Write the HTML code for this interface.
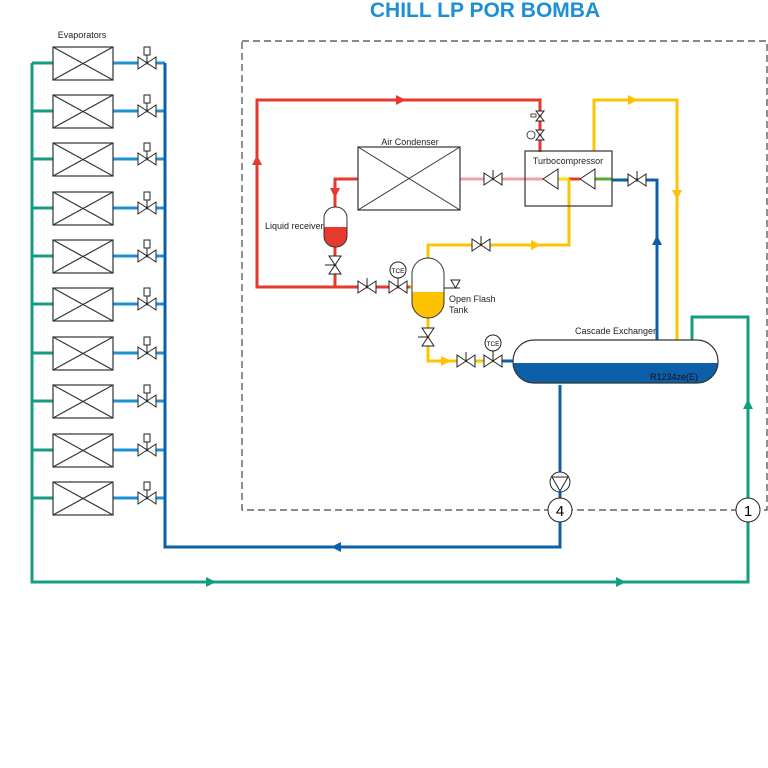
<!DOCTYPE html>
<html><head><meta charset="utf-8"><style>
html,body{margin:0;padding:0;background:#fff;width:768px;height:768px;overflow:hidden}
svg text{font-family:"Liberation Sans",sans-serif}
</style></head><body>
<svg width="768" height="768" viewBox="0 0 768 768" xmlns="http://www.w3.org/2000/svg">
<defs>
<g id="vh"><path d="M-9,-6 L9,6 L9,-6 L-9,6 Z" fill="#fff" stroke="#222" stroke-width="1"/></g>
<g id="vv"><path d="M-6,-9 L6,9 L-6,9 L6,-9 Z" fill="#fff" stroke="#222" stroke-width="1"/></g>
<g id="vs"><path d="M-4,-5 L4,5 L-4,5 L4,-5 Z" fill="#fff" stroke="#222" stroke-width="1"/></g>
</defs>
<text x="485" y="17" font-size="21" font-weight="bold" fill="#1e8fd5" text-anchor="middle">CHILL LP POR BOMBA</text>
<rect x="242" y="41" width="525" height="469" fill="none" stroke="#444" stroke-width="1.2" stroke-dasharray="7,4"/>

<g fill="none" stroke="#139e82" stroke-width="3">
<path d="M32,63 V582 H748 V317 H692 V340"/>
<path d="M32,63 H53 M32,111 H53 M32,159 H53 M32,208 H53 M32,256 H53 M32,304 H53 M32,353 H53 M32,401 H53 M32,450 H53 M32,498 H53"/>
</g>
<g fill="#139e82">
<path d="M206,577 L216,582 L206,587Z"/><path d="M616,577 L626,582 L616,587Z"/><path d="M743,409 L748,399 L753,409Z"/>
</g>
<g fill="none" stroke="#1f90d8" stroke-width="3">
<path d="M113,63 H165 M113,111 H165 M113,159 H165 M113,208 H165 M113,256 H165 M113,304 H165 M113,353 H165 M113,401 H165 M113,450 H165 M113,498 H165"/>
</g>
<g fill="none" stroke="#0d5faa" stroke-width="3">
<path d="M165,63 V547 H560 V385"/>
<path d="M612,180 H657 V340"/>
<path d="M500,361 H513"/>
</g>
<g fill="#0d5faa"><path d="M341,542 L331,547 L341,552Z"/><path d="M652,245 L657,235 L662,245Z"/></g>
<g fill="#fff" stroke="#333" stroke-width="1.2">
<g id="ev"><rect x="53" y="47" width="60" height="33"/><path d="M53,47 L113,80 M113,47 L53,80"/></g>
<use href="#ev" y="48"/><use href="#ev" y="96"/><use href="#ev" y="145"/><use href="#ev" y="193"/><use href="#ev" y="241"/><use href="#ev" y="290"/><use href="#ev" y="338"/><use href="#ev" y="387"/><use href="#ev" y="435"/>
</g>
<g id="ev1"><use href="#vh" x="147" y="63"/><rect x="144" y="47" width="6" height="8" fill="#fff" stroke="#222" stroke-width="1"/><path d="M147,55 V63" stroke="#222"/></g>
<use href="#ev1" y="48"/><use href="#ev1" y="96"/><use href="#ev1" y="145"/><use href="#ev1" y="193"/><use href="#ev1" y="241"/><use href="#ev1" y="290"/><use href="#ev1" y="338"/><use href="#ev1" y="387"/><use href="#ev1" y="435"/>
<text x="82" y="38" font-size="9" text-anchor="middle" fill="#222">Evaporators</text>

<g fill="none" stroke="#e63a2e" stroke-width="3">
<path d="M540,152 V100 H257 V287 H410"/>
<path d="M358,179 H335 V207"/>
<path d="M335,247 V287"/>
<path d="M569,179 H580"/>
</g>
<g fill="#e63a2e"><path d="M396,95 L406,100 L396,105Z"/><path d="M252,165 L257,155 L262,165Z"/><path d="M330,188 L335,198 L340,188Z"/></g>
<path d="M460,179 H543" stroke="#f0a0a8" stroke-width="3"/>
<path d="M558,179 H569" stroke="#f5e400" stroke-width="3"/>
<path d="M595,179 H612" stroke="#5aaa2a" stroke-width="3"/>
<g fill="none" stroke="#fdc300" stroke-width="3">
<path d="M594,151 V100 H677 V340"/>
<path d="M569,179 V245 H428 V258"/>
<path d="M428,318 V361 H500"/>
<path d="M410,287 H412"/>
</g>
<g fill="#fdc300"><path d="M628,95 L638,100 L628,105Z"/><path d="M672,190 L677,200 L682,190Z"/><path d="M531,240 L541,245 L531,250Z"/><path d="M441,356 L451,361 L441,366Z"/></g>

<clipPath id="cx"><rect x="513" y="340" width="205" height="43" rx="21"/></clipPath>
<rect x="513" y="340" width="205" height="43" rx="21" fill="#fff"/>
<rect x="500" y="363" width="230" height="25" fill="#0d5faa" clip-path="url(#cx)"/>
<rect x="513" y="340" width="205" height="43" rx="21" fill="none" stroke="#333" stroke-width="1.2"/>
<text x="575" y="334" font-size="9" fill="#222">Cascade Exchanger</text>
<text x="650" y="380" font-size="9" fill="#111">R1234ze(E)</text>

<circle cx="560" cy="482" r="10" fill="#fff" stroke="#222"/><path d="M552,477 H568 L560,491Z" fill="none" stroke="#222"/>
<circle cx="560" cy="510" r="12" fill="#fff" stroke="#222"/><text x="560" y="516" font-size="15" text-anchor="middle">4</text>
<circle cx="748" cy="510" r="12" fill="#fff" stroke="#222"/><text x="748" y="516" font-size="15" text-anchor="middle">1</text>

<rect x="525" y="151" width="87" height="55" fill="none" stroke="#333" stroke-width="1.2"/>
<path d="M543,179 L558,169 L558,189Z M580,179 L595,169 L595,189Z" fill="#fff" stroke="#222"/>
<text x="568" y="164" font-size="9" text-anchor="middle" fill="#222">Turbocompressor</text>
<use href="#vh" x="637" y="180"/><path d="M637,180 V171" stroke="#222"/>
<use href="#vs" x="540" y="116"/><rect x="531" y="114" width="5" height="3" fill="#fff" stroke="#222" stroke-width=".8"/>
<use href="#vs" x="540" y="135"/>
<circle cx="531" cy="135" r="4" fill="#fff" stroke="#222" stroke-width=".8"/>

<rect x="358" y="147" width="102" height="63" fill="#fff" stroke="#333" stroke-width="1.2"/>
<path d="M358,147 L460,210 M460,147 L358,210" stroke="#333"/>
<text x="410" y="145" font-size="9" text-anchor="middle" fill="#222">Air Condenser</text>
<use href="#vh" x="493" y="179"/><path d="M493,179 V170" stroke="#222"/>

<clipPath id="cr"><rect x="324" y="207" width="23" height="40" rx="11"/></clipPath>
<rect x="324" y="207" width="23" height="40" rx="11" fill="#fff"/>
<rect x="320" y="227" width="30" height="25" fill="#e63a2e" clip-path="url(#cr)"/>
<rect x="324" y="207" width="23" height="40" rx="11" fill="none" stroke="#333"/>
<text x="265" y="229" font-size="9" fill="#222">Liquid receiver</text>
<use href="#vv" x="335" y="265"/><path d="M335,265 H325" stroke="#222"/>
<use href="#vh" x="367" y="287"/><path d="M367,287 V278" stroke="#222"/>
<use href="#vh" x="398" y="287"/><path d="M398,287 V278" stroke="#222"/>
<circle cx="398" cy="270" r="8" fill="#fff" stroke="#222"/><text x="398" y="273" font-size="6.5" text-anchor="middle">TCE</text>

<clipPath id="cf"><rect x="412" y="258" width="32" height="60" rx="16"/></clipPath>
<rect x="412" y="258" width="32" height="60" rx="16" fill="#fff"/>
<rect x="405" y="292" width="45" height="30" fill="#fdc300" clip-path="url(#cf)"/>
<rect x="412" y="258" width="32" height="60" rx="16" fill="none" stroke="#333"/>
<path d="M444,288 H460 M451,280 H460 L455.5,288Z" fill="none" stroke="#222"/>
<text x="449" y="302" font-size="9" fill="#222">Open Flash</text>
<text x="449" y="313" font-size="9" fill="#222">Tank</text>
<use href="#vv" x="428" y="337"/><path d="M428,337 H418" stroke="#222"/>
<use href="#vh" x="481" y="245"/><path d="M481,245 V236" stroke="#222"/>
<use href="#vh" x="466" y="361"/><path d="M466,361 V352" stroke="#222"/>
<use href="#vh" x="493" y="361"/><path d="M493,361 V351" stroke="#222"/>
<circle cx="493" cy="343" r="8" fill="#fff" stroke="#222"/><text x="493" y="346" font-size="6.5" text-anchor="middle">TCE</text>
</svg>
</body></html>
